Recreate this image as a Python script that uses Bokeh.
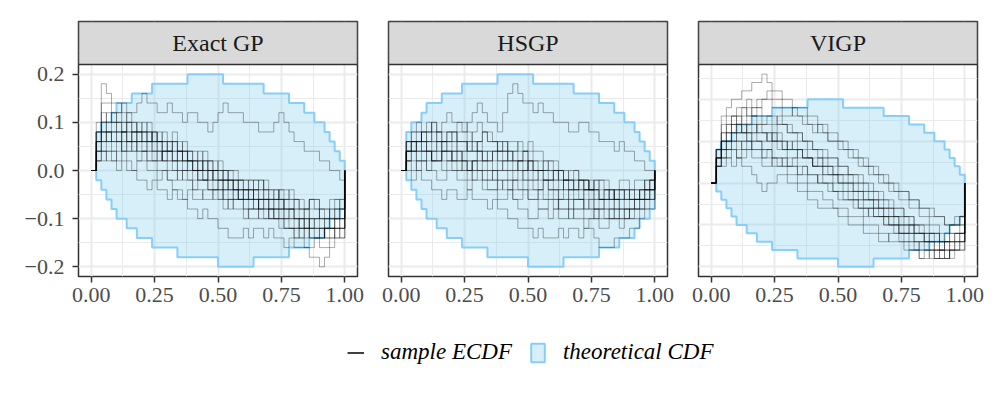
from bokeh.plotting import figure
from bokeh.layouts import row, column
from bokeh.models import Range1d, FixedTicker, CustomJSTickFormatter, Legend, LegendItem
from bokeh.embed import file_html
from bokeh.resources import INLINE
from bokeh.core.properties import value

# ---------------- data ----------------
PANELS = ["Exact GP", "HSGP", "VIGP"]
STEP = 1 / 50  # ECDF resolution (values below are counts of this step)

X_GRID = [0.00, 0.02, 0.04, 0.06, 0.08, 0.10, 0.12, 0.14, 0.16, 0.18,
          0.20, 0.22, 0.24, 0.26, 0.28, 0.30, 0.32, 0.34, 0.36, 0.38,
          0.40, 0.42, 0.44, 0.46, 0.48, 0.50, 0.52, 0.54, 0.56, 0.58,
          0.60, 0.62, 0.64, 0.66, 0.68, 0.70, 0.72, 0.74, 0.76, 0.78,
          0.80, 0.82, 0.84, 0.86, 0.88, 0.90, 0.92, 0.94, 0.96, 0.98, 1.00]

ENV_UPPER = [4, 5, 5, 6, 7, 7, 7, 8, 8, 8,
             8, 9, 9, 9, 9, 9, 9, 9, 10, 10,
             10, 10, 10, 10, 10, 9, 9, 9, 9, 9,
             9, 9, 9, 8, 8, 8, 8, 8, 7, 7,
             7, 6, 6, 5, 5, 4, 3, 2, 1, 0]
ENV_LOWER = [-1, -2, -3, -4, -5, -5, -6, -6, -7, -7,
             -7, -8, -8, -8, -8, -8, -9, -9, -9, -9,
             -9, -9, -9, -9, -10, -10, -10, -10, -10, -10,
             -10, -9, -9, -9, -9, -9, -9, -9, -8, -8,
             -8, -8, -7, -7, -7, -6, -5, -5, -4, 0]

EXACT_GP = [
    [0, 5, 9, 8, 7, 7, 6, 5, 5, 4, 4, 3, 4, 3, 2, 2, 3, 2, 1, 1,
     0, 1, 0, 0, -1, -1, 0, -1, -1, -2, -2, -3, -2, -3, -3, -4, -4, -3, -4, -4,
     -5, -5, -6, -5, -5, -6, -6, -5, -5, -6, 0],
    [0, 4, 7, 7, 6, 6, 7, 6, 6, 7, 8, 7, 7, 6, 6, 7, 6, 6, 5, 6,
     6, 5, 5, 4, 5, 6, 7, 6, 6, 6, 5, 5, 5, 4, 4, 4, 5, 6, 5, 4,
     3, 3, 2, 2, 2, 1, 1, 0, 0, -1, 0],
    [0, 1, 2, 1, 1, 0, 1, 0, 0, -1, -1, -2, -1, -2, -2, -3, -2, -3, -3, -4,
     -4, -5, -4, -5, -5, -6, -6, -7, -7, -7, -6, -7, -6, -6, -7, -6, -7, -7, -8, -7,
     -8, -8, -8, -9, -9, -10, -9, -8, -7, -7, 0],
    [0, 3, 4, 5, 6, 5, 5, 6, 5, 4, 4, 5, 4, 3, 3, 2, 3, 2, 2, 1,
     1, 0, 1, 0, -1, -1, -2, -1, -2, -2, -3, -3, -4, -3, -4, -4, -5, -5, -6, -6,
     -7, -7, -8, -8, -7, -7, -6, -6, -5, -5, 0],
    [0, 2, 3, 3, 2, 3, 2, 2, 3, 2, 2, 1, 1, 2, 1, 0, 0, -1, 0, -1,
     -2, -1, -1, -2, -2, -3, -2, -3, -3, -2, -2, -3, -3, -4, -3, -3, -4, -4, -3, -3,
     -4, -4, -5, -4, -4, -5, -5, -4, -3, -3, 0],
    [0, 4, 5, 4, 4, 3, 4, 3, 2, 3, 3, 2, 2, 1, 2, 3, 2, 2, 1, 2,
     2, 1, 0, 1, 0, 0, -1, -1, -2, -1, -1, -2, -2, -1, -2, -3, -3, -2, -3, -4,
     -4, -5, -4, -5, -5, -4, -4, -5, -4, -4, 0],
    [0, 3, 4, 3, 3, 4, 4, 3, 3, 2, 2, 3, 3, 2, 1, 1, 0, 1, 0, 0,
     -1, 0, -1, -1, 0, -1, -2, -2, -1, -2, -3, -3, -2, -3, -3, -4, -4, -5, -5, -4,
     -5, -6, -6, -5, -6, -6, -7, -6, -6, -7, 0],
    [0, 1, 1, 2, 2, 1, 2, 1, 0, 1, 1, 0, 0, -1, 0, -1, -2, -2, -3, -2,
     -3, -3, -2, -2, -3, -3, -4, -3, -4, -4, -5, -4, -4, -5, -5, -4, -5, -5, -6, -6,
     -7, -6, -6, -7, -7, -6, -7, -7, -6, -6, 0],
    [0, 2, 3, 4, 4, 5, 4, 4, 3, 4, 5, 4, 3, 3, 4, 3, 3, 2, 3, 2,
     1, 1, 2, 1, 1, 0, 0, 0, -1, -1, -2, -1, -1, -2, -3, -3, -2, -3, -4, -4,
     -3, -4, -4, -3, -3, -4, -5, -5, -4, -5, 0],
    [0, 3, 5, 6, 5, 5, 4, 5, 4, 4, 3, 3, 4, 3, 2, 2, 1, 2, 1, 1,
     0, 0, -1, 0, -1, -2, -1, -1, -2, -3, -3, -2, -3, -3, -2, -3, -3, -4, -4, -5,
     -5, -6, -5, -6, -6, -6, -5, -6, -6, -5, 0],
    [0, 2, 2, 3, 4, 4, 3, 3, 4, 3, 2, 2, 1, 1, 2, 2, 1, 0, 0, 1,
     0, -1, -1, 0, 0, -1, -1, -2, -2, -3, -2, -2, -3, -4, -4, -5, -4, -4, -5, -5,
     -6, -5, -6, -6, -7, -7, -6, -6, -7, -6, 0],
    [0, 4, 6, 5, 5, 6, 5, 4, 4, 5, 4, 4, 3, 4, 3, 3, 4, 3, 2, 2,
     1, 2, 1, 1, 0, 0, -1, 0, 0, -1, -1, -1, -2, -2, -1, -2, -2, -3, -3, -2,
     -3, -3, -4, -3, -3, -4, -4, -3, -3, -4, 0],
    [0, 1, 2, 2, 1, 2, 3, 2, 2, 1, 2, 1, 1, 0, 0, -1, -1, 0, -1, -1,
     -2, -2, -3, -3, -2, -2, -3, -4, -3, -3, -4, -5, -5, -4, -5, -5, -5, -6, -6, -6,
     -6, -7, -6, -7, -7, -8, -8, -7, -6, -6, 0],
    [0, 3, 3, 4, 3, 3, 2, 3, 3, 3, 4, 3, 2, 2, 1, 2, 1, 1, 2, 1,
     0, 0, 1, 0, 0, 1, 0, -1, -1, -1, -2, -2, -1, -1, -2, -2, -3, -2, -2, -3,
     -3, -4, -4, -3, -4, -5, -5, -4, -4, -3, 0],
    [0, 2, 4, 4, 3, 3, 4, 5, 4, 3, 3, 4, 3, 3, 2, 1, 1, 2, 2, 1,
     1, 0, 0, -1, -2, -2, -3, -3, -2, -3, -4, -4, -3, -4, -4, -5, -5, -4, -5, -6,
     -6, -6, -7, -6, -6, -7, -6, -6, -5, -5, 0],
    [0, 3, 4, 4, 5, 4, 4, 3, 4, 4, 3, 3, 2, 3, 3, 2, 2, 1, 1, 0,
     0, -1, -1, -2, -2, -1, -1, -2, -3, -3, -3, -4, -4, -3, -3, -4, -3, -3, -4, -4,
     -5, -5, -5, -6, -5, -5, -6, -6, -5, -4, 0],
]

HSGP = [
    [0, 2, 3, 3, 4, 3, 3, 4, 5, 6, 5, 5, 4, 5, 6, 7, 6, 5, 5, 4,
     6, 8, 9, 8, 7, 7, 6, 7, 6, 6, 5, 5, 5, 4, 4, 5, 5, 4, 4, 3,
     3, 3, 2, 3, 2, 2, 1, 1, 0, 0, 0],
    [0, 0, -1, 0, -1, -1, -2, -2, -3, -2, -2, -3, -3, -2, -3, -3, -3, -4, -3, -4,
     -4, -5, -5, -6, -6, -6, -7, -6, -7, -7, -7, -6, -7, -6, -6, -7, -6, -6, -7, -8,
     -8, -8, -7, -7, -7, -6, -6, -5, -4, -4, 0],
    [0, 3, 4, 4, 3, 4, 3, 3, 2, 3, 3, 2, 2, 3, 2, 2, 1, 2, 2, 1,
     1, 2, 1, 1, 0, 1, 0, 0, -1, -1, 0, 0, -1, -1, -2, -1, -2, -2, -1, -2,
     -2, -3, -3, -2, -2, -3, -3, -2, -2, -2, 0],
    [0, 1, 2, 1, 2, 2, 1, 1, 0, 1, 1, 2, 1, 0, 1, 1, 0, 0, -1, 0,
     0, -1, -1, 0, -1, -1, -2, -2, -1, -2, -2, -3, -3, -2, -3, -3, -4, -3, -4, -4,
     -5, -5, -4, -4, -5, -4, -4, -3, -3, -2, 0],
    [0, 2, 2, 3, 3, 2, 2, 3, 2, 2, 1, 1, 2, 1, 1, 2, 2, 1, 0, 0,
     1, 0, 0, 1, 1, 0, -1, 0, 0, -1, -1, -2, -1, -1, -2, -2, -1, -2, -2, -3,
     -3, -2, -3, -3, -4, -3, -3, -3, -2, -2, 0],
    [0, 3, 3, 2, 2, 3, 4, 3, 3, 2, 2, 3, 3, 2, 2, 3, 4, 3, 3, 2,
     2, 1, 2, 3, 2, 2, 1, 1, 0, 0, -1, 0, -1, -1, -1, -2, -2, -1, -2, -3,
     -3, -3, -4, -3, -3, -2, -2, -3, -2, -1, 0],
    [0, 1, 1, 0, 1, 0, 0, -1, -1, 0, 0, -1, -1, -2, -1, -1, -2, -2, -2, -3,
     -3, -2, -3, -4, -4, -5, -5, -4, -4, -5, -4, -5, -5, -4, -5, -5, -6, -5, -5, -6,
     -6, -5, -5, -6, -5, -5, -4, -4, -3, -3, 0],
    [0, 2, 3, 3, 4, 4, 5, 4, 4, 4, 3, 4, 4, 3, 4, 5, 4, 4, 3, 3,
     2, 3, 3, 2, 2, 3, 2, 2, 1, 1, 1, 0, 0, -1, 0, -1, -1, -2, -2, -1,
     -1, -2, -2, -1, -1, -2, -1, -1, -2, -1, 0],
    [0, 2, 2, 1, 1, 2, 1, 2, 3, 3, 2, 2, 1, 1, 0, 1, 1, 1, 2, 3,
     3, 2, 2, 1, 1, 0, 0, -1, -1, -2, -2, -3, -2, -3, -3, -3, -2, -3, -4, -3,
     -4, -4, -3, -4, -4, -4, -3, -3, -2, -2, 0],
    [0, 1, 2, 3, 2, 2, 1, 1, 2, 2, 1, 0, 0, -1, 0, 0, -1, -2, -2, -1,
     -1, -2, -3, -3, -2, -3, -3, -4, -4, -3, -3, -4, -4, -5, -4, -4, -5, -5, -4, -4,
     -3, -4, -5, -5, -4, -4, -3, -3, -3, -2, 0],
    [0, 2, 3, 2, 2, 1, 2, 2, 1, 1, 2, 1, 1, 0, 1, 2, 1, 0, 0, 1,
     0, 0, -1, -1, 0, -1, -1, -2, -1, -1, -2, -2, -1, -2, -2, -3, -2, -2, -3, -3,
     -2, -2, -3, -3, -2, -2, -3, -2, -1, -1, 0],
    [0, 3, 4, 5, 4, 4, 5, 4, 3, 3, 4, 3, 3, 2, 2, 3, 2, 2, 1, 2,
     2, 1, 1, 0, 0, 1, 0, 0, 1, 0, 0, -1, -1, -2, -1, -1, -2, -2, -3, -3,
     -2, -2, -3, -2, -2, -3, -3, -2, -2, -1, 0],
    [0, 1, 0, 1, 1, 0, 1, 1, 2, 1, 0, 0, 1, 0, -1, 0, -1, -1, 0, -1,
     -2, -2, -1, -2, -2, -3, -3, -2, -3, -3, -4, -3, -3, -4, -3, -3, -4, -4, -5, -4,
     -4, -5, -5, -4, -4, -5, -5, -4, -4, -3, 0],
    [0, 2, 3, 4, 3, 3, 2, 3, 3, 4, 4, 3, 3, 2, 3, 2, 1, 1, 2, 2,
     1, 1, 0, 1, 2, 1, 1, 0, 0, 1, 0, 0, -1, 0, 0, -1, -1, -2, -1, -1,
     -2, -3, -2, -2, -3, -3, -2, -2, -1, -1, 0],
    [0, 2, 2, 2, 3, 2, 1, 1, 2, 2, 1, 1, 0, 0, 1, 0, 0, -1, -1, -2,
     -1, -1, -2, -2, -1, -2, -2, -3, -3, -2, -3, -4, -4, -3, -4, -4, -3, -4, -4, -5,
     -5, -4, -4, -5, -5, -4, -4, -4, -3, -3, 0],
    [0, 3, 3, 3, 4, 5, 4, 4, 3, 4, 4, 5, 5, 4, 3, 3, 4, 3, 3, 2,
     3, 2, 1, 1, 2, 1, 0, 0, -1, -1, 0, -1, -2, -2, -2, -1, -1, -2, -2, -3,
     -3, -3, -2, -2, -3, -3, -4, -3, -3, -2, 0],
]

VIGP = [
    [0, 3, 8, 9, 10, 10, 11, 11, 12, 12, 13, 12, 11, 11, 10, 10, 9, 9, 9, 8,
     8, 7, 7, 6, 6, 5, 5, 4, 4, 3, 3, 2, 2, 1, 1, 0, 0, -1, -1, -2,
     -2, -3, -3, -3, -4, -4, -5, -5, -4, -4, 0],
    [0, 4, 6, 7, 8, 8, 9, 10, 9, 9, 10, 10, 9, 9, 8, 8, 9, 8, 7, 7,
     6, 7, 6, 5, 5, 4, 4, 3, 3, 2, 2, 1, 1, 0, 0, -1, -1, -2, -2, -3,
     -3, -4, -4, -5, -5, -6, -6, -5, -5, -4, 0],
    [0, 4, 5, 6, 7, 7, 6, 7, 8, 8, 7, 7, 6, 7, 7, 6, 6, 5, 5, 4,
     4, 3, 3, 2, 2, 1, 1, 1, 0, 0, -1, -1, -2, -2, -3, -3, -4, -4, -5, -5,
     -6, -6, -7, -7, -7, -8, -7, -7, -6, -6, 0],
    [0, 3, 4, 5, 5, 6, 6, 5, 6, 7, 6, 6, 5, 5, 4, 5, 4, 4, 3, 3,
     2, 3, 2, 2, 1, 1, 0, 0, -1, -1, -2, -2, -3, -3, -4, -4, -5, -5, -6, -6,
     -7, -7, -8, -8, -9, -9, -9, -8, -8, -7, 0],
    [0, 2, 2, 3, 2, 3, 2, 2, 1, 0, -1, 0, 0, 1, 1, 0, 0, -1, -1, -2,
     -2, -3, -3, -3, -3, -4, -4, -5, -5, -5, -6, -6, -6, -7, -7, -6, -6, -7, -7, -8,
     -8, -9, -9, -8, -9, -9, -8, -8, -7, -7, 0],
    [0, 3, 5, 5, 6, 5, 5, 6, 5, 5, 4, 4, 5, 4, 4, 3, 3, 4, 3, 3,
     2, 2, 1, 1, 0, 0, -1, -1, -2, -2, -3, -3, -3, -4, -4, -5, -5, -6, -6, -5,
     -6, -6, -7, -6, -6, -7, -7, -6, -6, -5, 0],
    [0, 2, 3, 4, 4, 3, 4, 5, 4, 4, 3, 3, 2, 2, 3, 2, 2, 1, 1, 0,
     0, 1, 0, 0, -1, -1, -2, -2, -2, -3, -3, -4, -4, -4, -5, -5, -6, -6, -7, -7,
     -8, -7, -7, -7, -8, -8, -7, -7, -7, -6, 0],
    [0, 4, 7, 8, 8, 7, 8, 9, 8, 7, 7, 8, 8, 7, 7, 6, 6, 6, 5, 5,
     4, 4, 3, 3, 3, 2, 2, 1, 1, 0, 0, -1, -1, -2, -2, -3, -3, -3, -4, -4,
     -5, -5, -6, -6, -6, -7, -7, -6, -6, -6, 0],
    [0, 3, 4, 4, 5, 4, 5, 5, 4, 4, 3, 4, 3, 3, 2, 2, 2, 1, 2, 1,
     1, 0, 0, -1, -1, -2, -2, -2, -3, -3, -4, -3, -4, -4, -5, -5, -5, -6, -6, -7,
     -7, -8, -8, -9, -9, -8, -8, -9, -8, -8, 0],
    [0, 2, 4, 5, 6, 6, 7, 6, 7, 6, 6, 5, 6, 5, 5, 4, 5, 4, 4, 3,
     3, 3, 2, 2, 1, 1, 1, 0, 0, -1, -1, -2, -2, -3, -3, -3, -4, -4, -4, -5,
     -5, -6, -6, -6, -7, -7, -6, -5, -5, -5, 0],
    [0, 3, 5, 6, 7, 8, 7, 8, 8, 9, 8, 8, 7, 8, 7, 7, 6, 6, 5, 5,
     4, 4, 4, 3, 3, 2, 2, 1, 1, 1, 0, 0, -1, -1, -2, -2, -3, -3, -4, -4,
     -5, -5, -5, -6, -6, -7, -7, -8, -7, -7, 0],
    [0, 2, 3, 3, 4, 3, 3, 4, 3, 3, 2, 2, 3, 2, 2, 1, 1, 0, 0, -1,
     -1, -1, -2, -2, -3, -3, -3, -4, -4, -4, -5, -5, -5, -6, -6, -7, -7, -7, -8, -8,
     -8, -9, -8, -8, -8, -9, -9, -8, -8, -7, 0],
    [0, 4, 6, 6, 7, 6, 6, 7, 7, 6, 6, 5, 5, 6, 5, 4, 4, 4, 3, 3,
     2, 2, 2, 1, 1, 0, 0, 0, -1, -1, -2, -2, -2, -3, -3, -4, -4, -5, -5, -5,
     -6, -6, -6, -7, -7, -8, -8, -7, -7, -6, 0],
    [0, 3, 5, 7, 8, 9, 9, 8, 9, 10, 10, 11, 10, 10, 9, 9, 8, 8, 8, 7,
     7, 6, 6, 5, 5, 5, 4, 4, 3, 3, 2, 2, 1, 1, 0, 0, -1, -1, -1, -2,
     -2, -3, -3, -4, -4, -4, -5, -5, -5, -4, 0],
    [0, 2, 3, 4, 5, 5, 4, 4, 5, 5, 4, 4, 3, 3, 3, 2, 3, 2, 2, 1,
     1, 0, 0, 0, -1, -1, -1, -2, -2, -3, -3, -3, -4, -4, -4, -5, -5, -6, -6, -6,
     -7, -7, -7, -8, -8, -8, -9, -8, -8, -8, 0],
    [0, 3, 4, 5, 6, 7, 6, 6, 6, 5, 5, 6, 5, 5, 4, 4, 4, 3, 3, 3,
     2, 2, 1, 1, 1, 0, 0, -1, -1, -2, -2, -2, -3, -3, -4, -4, -4, -5, -5, -6,
     -6, -6, -7, -7, -8, -8, -7, -7, -6, -6, 0],
]
DRAWS = [EXACT_GP, HSGP, VIGP]

X_TICKS = [0.0, 0.25, 0.5, 0.75, 1.0]
X_MINOR = [0.125, 0.375, 0.625, 0.875]
Y_TICKS = [-0.2, -0.1, 0.0, 0.1, 0.2]
Y_MINOR = [-0.25, -0.15, -0.05, 0.05, 0.15, 0.25]

for d in DRAWS:
    for s in d:
        if len(s) != len(X_GRID):
            raise ValueError("bad length %d" % len(s))

def step_hv(xs, ys):
    px, py = [], []
    for j in range(len(xs)):
        if j > 0:
            px.append(xs[j]); py.append(ys[j - 1])
        px.append(xs[j]); py.append(ys[j])
    return px, py

FONT = "Liberation Serif"
GRID = "#EBEBEB"
DARK = "#333333"
ENV_FILL = "#87CEEB"
ENV_LINE = "#87CEFA"
TOP = 21
FRAME_H = 255
PANEL_PX = 212
STRIP_PX = FRAME_H - PANEL_PX
BOTTOM = 36
H = TOP + FRAME_H + BOTTOM
FRAME_W = 279

env_x = X_GRID[1:]
up_x, up_y = step_hv(env_x, [v * STEP for v in ENV_UPPER])
lo_x, lo_y = step_hv(env_x, [v * STEP for v in ENV_LOWER])
poly_x = up_x + lo_x[::-1]
poly_y = up_y + lo_y[::-1]

figs = []
borders = [(78, 10), (21, 10), (21, 12)]
for k, name in enumerate(PANELS):
    draws = DRAWS[k]
    vals = [v * STEP for s in draws for v in s] + [v * STEP for v in ENV_UPPER + ENV_LOWER]
    lo, hi = min(vals), max(vals)
    pad = 0.05 * (hi - lo)
    lo_e, hi_e = lo - pad, hi + pad
    top = hi_e + (hi_e - lo_e) * STRIP_PX / PANEL_PX
    bl, br = borders[k]
    p = figure(width=bl + FRAME_W + br, height=H,
               x_range=Range1d(-0.05, 1.05), y_range=Range1d(lo_e, top),
               output_backend="svg", toolbar_location=None, title=None,
               y_axis_location="left" if k == 0 else None,
               min_border_left=bl, min_border_right=br,
               min_border_top=TOP, min_border_bottom=BOTTOM)
    p.background_fill_color = "white"
    p.border_fill_color = "white"
    p.outline_line_color = DARK
    p.outline_line_width = 1.5

    p.xgrid.ticker = FixedTicker(ticks=X_TICKS, minor_ticks=X_MINOR)
    p.ygrid.ticker = FixedTicker(ticks=Y_TICKS, minor_ticks=Y_MINOR)
    for g in (p.xgrid, p.ygrid):
        g.grid_line_color = GRID
        g.grid_line_width = 2
        g.minor_grid_line_color = GRID
        g.minor_grid_line_width = 1

    ax = p.xaxis[0]
    ax.ticker = FixedTicker(ticks=X_TICKS)
    ax.formatter = CustomJSTickFormatter(code="return tick.toFixed(2);")
    ax.major_label_standoff = 5
    axes = [ax]
    if k == 0:
        ay = p.yaxis[0]
        ay.ticker = FixedTicker(ticks=Y_TICKS)
        ay.formatter = CustomJSTickFormatter(
            code="const s = Math.abs(tick).toFixed(1); return tick < -1e-9 ? '\u2212' + s : s;")
        ay.major_label_standoff = 8
        axes.append(ay)
    for a in axes:
        a.axis_line_color = None
        a.major_tick_line_color = DARK
        a.major_tick_line_width = 1.5
        a.major_tick_out = 6
        a.major_tick_in = 0
        a.minor_tick_line_color = None
        a.major_label_text_font = FONT
        a.major_label_text_font_size = "22px"
        a.major_label_text_color = "#4D4D4D"

    p.patch(poly_x, poly_y, fill_color=ENV_FILL, fill_alpha=0.33,
            line_color=ENV_LINE, line_width=2)

    xs, ys = [], []
    for s in draws:
        sx, sy = step_hv(X_GRID, [v * STEP for v in s])
        xs.append(sx); ys.append(sy)
    p.multi_line(xs, ys, line_color="black", line_alpha=0.33, line_width=1)

    p.quad(left=[-0.05], right=[1.05], bottom=[hi_e], top=[top],
           fill_color="#D9D9D9", line_color=DARK, line_width=1.5)
    p.text(x=[0.5], y=[(hi_e + top) / 2], text=[name], text_font=value(FONT),
           text_font_size="24px", text_color="#1A1A1A",
           text_align="center", text_baseline="middle")
    figs.append(p)

# legend strip below the panels (its glyph renderers lie outside the visible range)
LEG_H = 80
leg = figure(width=989, height=LEG_H, output_backend="svg", toolbar_location=None,
             title=None, x_axis_location=None, y_axis_location=None,
             x_range=Range1d(5, 6), y_range=Range1d(5, 6),
             min_border=0, outline_line_color=None)
leg.xgrid.visible = False
leg.ygrid.visible = False
lx, ly = step_hv(X_GRID, [v * STEP for v in EXACT_GP[0]])
r_line = leg.line(x=lx, y=ly, line_color="black", line_width=1.5)
r_band = leg.patch(x=poly_x, y=poly_y, fill_color=ENV_FILL, fill_alpha=0.33,
                   line_color=ENV_LINE, line_width=2)
legend = Legend(items=[LegendItem(label="sample ECDF", renderers=[r_line]),
                       LegendItem(label="theoretical CDF", renderers=[r_band])],
                orientation="horizontal", location=(347, 27),
                label_text_font=FONT, label_text_font_style="italic",
                label_text_font_size="23px", label_text_color="black",
                glyph_width=17, glyph_height=23, label_standoff=17, spacing=17,
                padding=0, margin=0, border_line_color=None,
                background_fill_alpha=0)
leg.add_layout(legend, "center")

layout = column(row(*figs), leg)
open("out.html", "w").write(file_html(layout, INLINE))
